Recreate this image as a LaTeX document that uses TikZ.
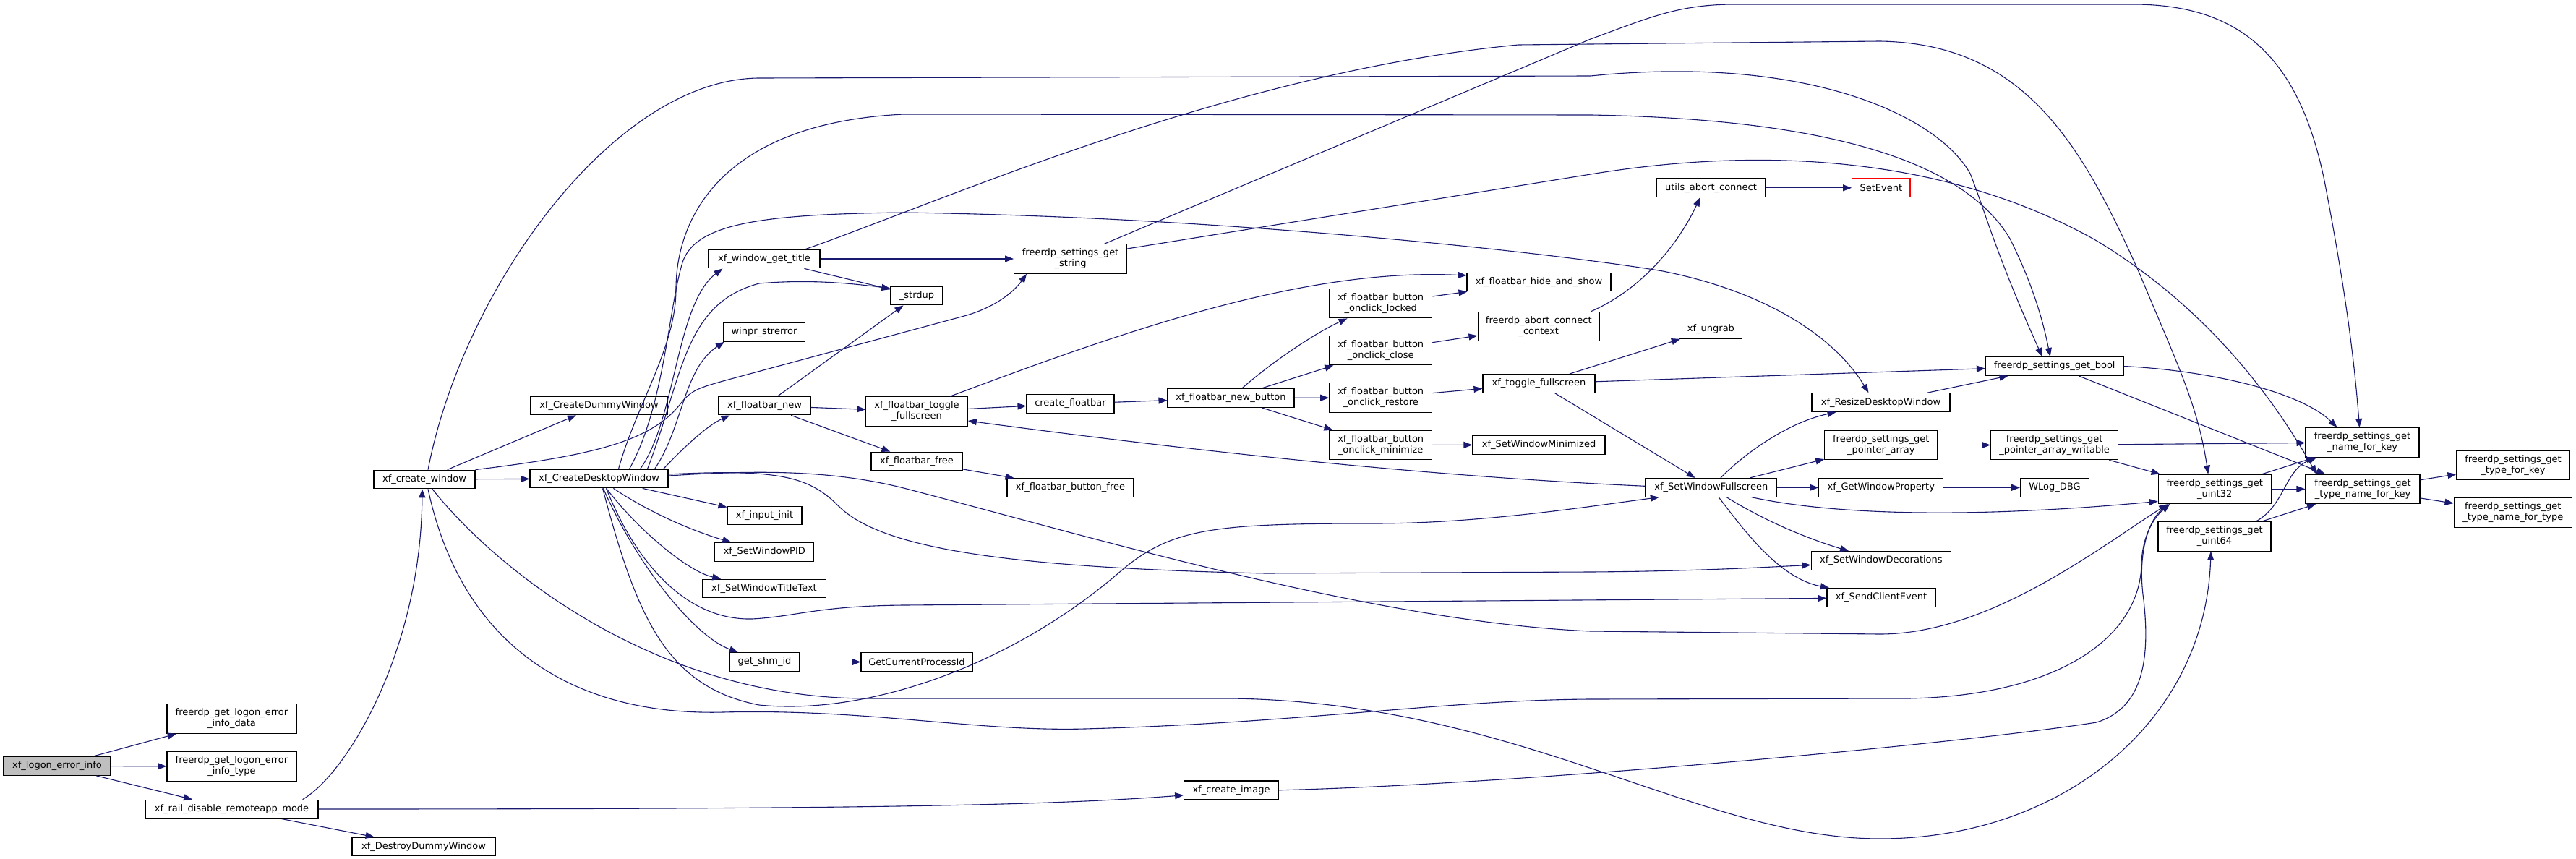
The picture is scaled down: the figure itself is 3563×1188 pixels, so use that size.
\documentclass[tikz,border=0pt]{standalone}
\usepackage{fontspec}
\setmainfont{DejaVu Sans}
\usepackage{xcolor}
\usepackage{tikz}
\usetikzlibrary{arrows.meta}
\definecolor{edgeblue}{HTML}{191970}
\definecolor{rootgray}{HTML}{BFBFBF}
\definecolor{cutred}{HTML}{FF0000}

\begin{document}
\begin{tikzpicture}[x=1pt, y=-1pt,
    fn/.style={draw=black, fill=white, line width=1.1pt, inner sep=0pt,
      minimum height=25.7pt, align=center, font=\fontsize{13}{15}\selectfont},
    fntwo/.style={fn, minimum height=40.5pt},
    call/.style={draw=edgeblue, line width=1.1pt, -{Triangle[length=12pt,width=9pt]}}]
		% Canvas
		\fill[white] (0,0) rectangle (3563,1188);
		\useasboundingbox (0,0) rectangle (3563,1188);

		% Root and its direct callees
		\node[fn, fill=rootgray, minimum width=148pt] (logon) at (79,1059.5) {xf\_logon\_error\_info};
		\node[fntwo, minimum width=179pt] (ldata) at (320.5,994) {freerdp\_get\_logon\_error\\\_info\_data};
		\node[fntwo, minimum width=179pt] (ltype) at (320.5,1060) {freerdp\_get\_logon\_error\\\_info\_type};
		\node[fn, minimum width=239pt] (rail) at (320.5,1119) {xf\_rail\_disable\_remoteapp\_mode};
		\node[fn, minimum width=198pt] (destroy) at (586,1171) {xf\_DestroyDummyWindow};
		\node[fn, minimum width=140pt] (cwin) at (587,663) {xf\_create\_window};
		\node[fn, minimum width=130.6pt] (createimg) at (1703,1092.8) {xf\_create\_image};

		% Window creation
		\node[fn, minimum width=189pt] (dummy) at (828.5,561) {xf\_CreateDummyWindow};
		\node[fn, minimum width=191pt] (desktop) at (828.5,662) {xf\_CreateDesktopWindow};
		\node[fn, minimum width=154pt] (title) at (1057,358) {xf\_window\_get\_title};
		\node[fn, minimum width=72pt] (strdup) at (1268,409) {\_strdup};
		\node[fn, minimum width=113pt] (winpr) at (1057,459.4) {winpr\_strerror};
		\node[fn, minimum width=127pt] (fbnew) at (1057.5,561) {xf\_floatbar\_new};
		\node[fn, minimum width=103pt] (input) at (1057.5,713) {xf\_input\_init};
		\node[fn, minimum width=137pt] (setpid) at (1057.3,763.3) {xf\_SetWindowPID};
		\node[fn, minimum width=171pt] (settitle) at (1057,814) {xf\_SetWindowTitleText};
		\node[fn, minimum width=97pt] (shm) at (1057.5,915.5) {get\_shm\_id};
		\node[fn, minimum width=154pt] (getpid) at (1268,915.5) {GetCurrentProcessId};

		% Floatbar
		\node[fntwo, minimum width=140.5pt] (fbtoggle) at (1268,569) {xf\_floatbar\_toggle\\\_fullscreen};
		\node[fn, minimum width=126pt] (fbfree) at (1268,638) {xf\_floatbar\_free};
		\node[fn, minimum width=121pt] (createfb) at (1480.5,558.4) {create\_floatbar};
		\node[fn, minimum width=175pt] (btnfree) at (1480.5,674.5) {xf\_floatbar\_button\_free};
		\node[fntwo, minimum width=156pt] (getstr) at (1480.6,358) {freerdp\_settings\_get\\\_string};
		\node[fn, minimum width=175pt] (newbtn) at (1702.5,550.5) {xf\_floatbar\_new\_button};
		\node[fntwo, minimum width=142pt] (oclocked) at (1909.7,419.6) {xf\_floatbar\_button\\\_onclick\_locked};
		\node[fntwo, minimum width=142pt] (occlose) at (1909.7,484.6) {xf\_floatbar\_button\\\_onclick\_close};
		\node[fntwo, minimum width=142pt] (ocrestore) at (1909.7,550) {xf\_floatbar\_button\\\_onclick\_restore};
		\node[fntwo, minimum width=142pt] (ocmin) at (1909.7,615.5) {xf\_floatbar\_button\\\_onclick\_minimize};
		\node[fn, minimum width=199pt] (hideshow) at (2128.5,390) {xf\_floatbar\_hide\_and\_show};
		\node[fntwo, minimum width=168.5pt] (abortctx) at (2128.3,451.3) {freerdp\_abort\_connect\\\_context};
		\node[fn, minimum width=155pt] (togglefs) at (2128.5,530.4) {xf\_toggle\_fullscreen};
		\node[fn, minimum width=183pt] (setmin) at (2128.5,615.3) {xf\_SetWindowMinimized};

		% Fullscreen and events
		\node[fn, minimum width=150pt] (uabort) at (2366.5,259.8) {utils\_abort\_connect};
		\node[fn, draw=cutred, minimum width=80.4pt] (setevent) at (2601.8,259.8) {SetEvent};
		\node[fn, minimum width=87pt] (ungrab) at (2366.4,455.5) {xf\_ungrab};
		\node[fn, minimum width=181.6pt] (setfs) at (2366.8,674.3) {xf\_SetWindowFullscreen};
		\node[fn, minimum width=191pt] (resize) at (2601.5,556.6) {xf\_ResizeDesktopWindow};
		\node[fntwo, minimum width=156pt] (ptrarr) at (2601.8,615.5) {freerdp\_settings\_get\\\_pointer\_array};
		\node[fn, minimum width=172pt] (getprop) at (2601.8,674.3) {xf\_GetWindowProperty};
		\node[fn, minimum width=193.7pt] (setdeco) at (2601.9,775.4) {xf\_SetWindowDecorations};
		\node[fn, minimum width=150pt] (sendclient) at (2602,826.4) {xf\_SendClientEvent};

		% Settings getters
		\node[fn, minimum width=190.6pt] (getbool) at (2841.7,506.5) {freerdp\_settings\_get\_bool};
		\node[fntwo, minimum width=176pt] (ptrw) at (2841.6,615.5) {freerdp\_settings\_get\\\_pointer\_array\_writable};
		\node[fn, minimum width=95pt] (wlog) at (2842,674.3) {WLog\_DBG};
		\node[fntwo, minimum width=156pt] (uint32) at (3063.2,676.4) {freerdp\_settings\_get\\\_uint32};
		\node[fntwo, minimum width=156pt] (uint64) at (3063,742) {freerdp\_settings\_get\\\_uint64};
		\node[fntwo, minimum width=157pt] (namekey) at (3267.5,611.8) {freerdp\_settings\_get\\\_name\_for\_key};
		\node[fntwo, minimum width=158pt] (typenamekey) at (3268,676.4) {freerdp\_settings\_get\\\_type\_name\_for\_key};
		\node[fntwo, minimum width=156pt] (typekey) at (3476,643.4) {freerdp\_settings\_get\\\_type\_for\_key};
		\node[fntwo, minimum width=163.5pt] (typenametype) at (3475.8,709) {freerdp\_settings\_get\\\_type\_name\_for\_type};

		% xf_logon_error_info
		\draw[call] (logon) -- (ldata);
		\draw[call] (logon) -- (ltype);
		\draw[call] (logon) -- (rail);

		% xf_rail_disable_remoteapp_mode
		\draw[call] ([xshift=-22pt]rail.north east) .. controls (480,1070) and (582,900) .. ([xshift=-3pt]cwin.south);
		\draw[call] (rail.east) .. controls (1200,1119) and (1450,1114) .. ([yshift=-7pt]createimg.west);
		\draw[call] (rail) -- (destroy);

		% xf_create_window
		\draw[call] (cwin) -- (dummy);
		\draw[call] (cwin) -- (desktop);
		\draw[call] ([xshift=5pt]cwin.north) .. controls (640,400) and (850,108) .. (1051,108) -- (2200,105) .. controls (2500,75) and (2680,160) .. (2725,240) .. controls (2745,290) and (2760,350) .. ([xshift=-17pt]getbool.north);
		\draw[call] (cwin.north east) .. controls (820,630) and (900,610) .. (940,560) .. controls (955,540) and (965,537) .. (1000,527) -- (1330,438) .. controls (1380,425) and (1405,400) .. ([xshift=18pt]getstr.south west);
		\draw[call] ([xshift=11pt]cwin.south) .. controls (680,780) and (900,966) .. (1200,966) -- (1700,966) .. controls (2100,970) and (2350,1160) .. (2600,1160) .. controls (2850,1160) and (3050,1000) .. ([xshift=-5pt]uint64.south);
		\draw[call] ([xshift=5pt]cwin.south) .. controls (640,900) and (800,990) .. (1000,985) .. controls (1200,980) and (1350,1012) .. (1500,1008) .. controls (1800,1000) and (2000,968) .. (2200,967) -- (2640,966) .. controls (2850,962) and (2960,880) .. (2962,780) .. controls (2963,740) and (2980,715) .. ([xshift=-62pt]uint32.south);

		% xf_CreateDesktopWindow
		\draw[call] ([xshift=27pt]desktop.north) .. controls (880,560) and (935,480) .. (935,400) .. controls (935,300) and (1000,170) .. (1250,158) -- (2200,159) .. controls (2550,165) and (2720,230) .. (2780,330) .. controls (2810,390) and (2825,440) .. ([xshift=-6pt]getbool.north);
		\draw[call] ([xshift=42pt]desktop.north) .. controls (920,560) and (925,420) .. (945,360) .. controls (965,310) and (1050,296) .. (1250,294) .. controls (1700,300) and (2150,350) .. (2300,375) .. controls (2450,405) and (2540,470) .. ([xshift=-17pt]resize.north);
		\draw[call] ([xshift=57pt]desktop.north) .. controls (935,580) and (935,420) .. ([xshift=20pt]title.south west);
		\draw[call] ([xshift=67pt]desktop.north) .. controls (945,520) and (945,420) .. (1050,392) .. controls (1120,386) and (1180,392) .. ([yshift=10pt]strdup.west);
		\draw[call] ([xshift=77pt]desktop.north) .. controls (945,590) and (945,510) .. ([xshift=2pt]winpr.south west);
		\draw[call] ([xshift=89pt]desktop.north) .. controls (940,625) and (975,590) .. ([xshift=16pt]fbnew.south west);
		\draw[call] (desktop) -- (input);
		\draw[call] (desktop) .. controls (900,710) and (960,735) .. (setpid);
		\draw[call] (desktop) .. controls (880,730) and (950,790) .. (settitle);
		\draw[call] (desktop) .. controls (880,780) and (960,880) .. (shm);
		\draw[call] ([yshift=4pt]desktop.east) .. controls (1050,650) and (1150,650) .. (1250,675) .. controls (1500,740) and (1900,860) .. (2200,873) -- (2600,877) .. controls (2750,877) and (2900,760) .. ([xshift=-65pt]uint32.south);
		\draw[call] ([yshift=6pt]desktop.east) .. controls (1080,648) and (1120,660) .. (1160,700) .. controls (1220,760) and (1400,785) .. (1750,793) -- (2200,791) .. controls (2350,790) and (2450,784) .. ([yshift=-6pt]setdeco.west);
		\draw[call] ([xshift=10pt]desktop.south) .. controls (880,780) and (950,858) .. (1040,856) .. controls (1100,853) and (1130,838) .. (1250,837) -- ([yshift=-1pt]sendclient.west);
		\draw[call] ([xshift=5pt]desktop.south) .. controls (880,850) and (920,950) .. (1050,975) .. controls (1200,990) and (1400,920) .. (1550,790) .. controls (1620,730) and (1680,724) .. (1900,724) .. controls (2050,724) and (2200,700) .. ([xshift=-72pt]setfs.south);
		\draw[call] (shm) -- (getpid);

		% xf_window_get_title
		\draw[call] (title) -- (getstr);
		\draw[call] (title) -- (strdup);
		\draw[call] ([xshift=57pt]title.north) .. controls (1300,280) and (1700,100) .. (2100,62) -- (2600,57) .. controls (2800,60) and (2880,200) .. (2960,380) .. controls (3010,500) and (3040,560) .. ([xshift=-9pt]uint32.north);

		% Floatbar
		\draw[call] (fbnew) -- (strdup);
		\draw[call] (fbnew) -- (fbtoggle);
		\draw[call] (fbnew) -- (fbfree);
		\draw[call] (fbfree) -- (btnfree);
		\draw[call] (fbtoggle) -- (createfb);
		\draw[call] ([xshift=46pt]fbtoggle.north) .. controls (1550,460) and (1800,370) .. ([yshift=9pt]hideshow.west);
		\draw[call] (createfb) -- (newbtn);
		\draw[call] (newbtn) .. controls (1760,500) and (1820,460) .. (oclocked);
		\draw[call] (newbtn) -- (occlose);
		\draw[call] (newbtn) -- (ocrestore);
		\draw[call] (newbtn) -- (ocmin);
		\draw[call] (oclocked) -- (hideshow);
		\draw[call] (occlose) -- (abortctx);
		\draw[call] (ocrestore) -- (togglefs);
		\draw[call] (ocmin) -- (setmin);

		% Connection abort
		\draw[call] ([xshift=-12pt]abortctx.north east) .. controls (2270,400) and (2320,340) .. ([xshift=-15pt]uabort.south);
		\draw[call] (uabort) -- (setevent);

		% Fullscreen
		\draw[call] (togglefs) -- (ungrab);
		\draw[call] (togglefs) -- (getbool);
		\draw[call] (togglefs) -- (setfs);
		\draw[call] (resize) -- (getbool);
		\draw[call] ([yshift=2pt]setfs.west) .. controls (2000,660) and (1700,630) .. ([yshift=-13pt]fbtoggle.east);
		\draw[call] (setfs) .. controls (2410,630) and (2470,585) .. (resize);
		\draw[call] (setfs) -- (ptrarr);
		\draw[call] (setfs) -- (getprop);
		\draw[call] (setfs) .. controls (2440,720) and (2500,745) .. (setdeco);
		\draw[call] (setfs) .. controls (2410,730) and (2460,800) .. (sendclient);
		\draw[call] ([xshift=56pt]setfs.south) .. controls (2550,715) and (2750,715) .. ([yshift=-17pt]uint32.west);
		\draw[call] (getprop) -- (wlog);
		\draw[call] (ptrarr) -- (ptrw);
		\draw[call] (ptrw) -- (namekey);
		\draw[call] (ptrw) -- (uint32);

		% Settings lookups
		\draw[call] ([xshift=47pt]getstr.north) -- (2200,54) .. controls (2280,25) and (2320,6) .. (2400,6) -- (2950,6) .. controls (3100,6) and (3180,80) .. (3215,250) .. controls (3240,380) and (3255,480) .. ([xshift=-4pt]namekey.north);
		\draw[call] ([yshift=14pt]getstr.east) -- (2200,241) .. controls (2450,200) and (2700,220) .. (2900,333) .. controls (3060,430) and (3150,560) .. ([xshift=-64pt]typenamekey.north);
		\draw[call] (getbool.east) .. controls (3050,512) and (3180,540) .. ([xshift=-35pt]namekey.north);
		\draw[call] (getbool) -- (typenamekey);
		\draw[call] (uint32) -- (namekey);
		\draw[call] (uint32) -- (typenamekey);
		\draw[call] ([xshift=57pt]uint64.north) .. controls (3160,700) and (3160,650) .. ([xshift=-63pt]namekey.south);
		\draw[call] (uint64) -- (typenamekey);
		\draw[call] (typenamekey) -- (typekey);
		\draw[call] (typenamekey) -- (typenametype);
		\draw[call] (createimg.east) .. controls (2100,1085) and (2700,1030) .. (2900,999) .. controls (2960,980) and (2975,920) .. (2965,830) .. controls (2955,760) and (2975,715) .. ([xshift=-62pt]uint32.south);
	\end{tikzpicture}
\end{document}
